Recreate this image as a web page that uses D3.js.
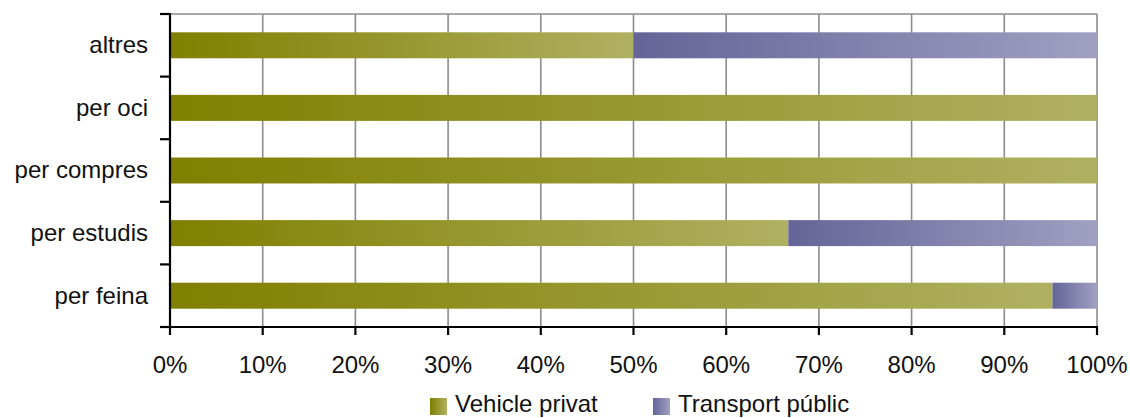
<!DOCTYPE html>
<html><head><meta charset="utf-8">
<script src="https://cdn.jsdelivr.net/npm/d3@7"></script>
<style>
body{margin:0;background:#fff;}
text{font-family:"Liberation Sans",Arial,sans-serif;fill:#111;}
</style></head>
<body>
<svg id="chart" width="1130" height="418"></svg>
<script>
const categories = ["altres","per oci","per compres","per estudis","per feina"];
const seriesNames = ["Vehicle privat","Transport públic"];
const vehiclePrivat = [50, 100, 100, 66.7, 95.2];
const transportPublic = [50, 0, 0, 33.3, 4.8];
const tickValues = [0,10,20,30,40,50,60,70,80,90,100];

(function(){
const svg = d3.select("#chart");
const mLeft = 170, mRight = 1097, mTop = 14, mBottom = 327;
const fontSize = 24;

const x = d3.scaleLinear().domain([0,100]).range([mLeft,mRight]);
const y = d3.scaleBand().domain(categories).range([mTop,mBottom]).paddingInner(0.585).paddingOuter(0.2925);

const defs = svg.append("defs");
const grads = [
  {id:"gOlive", c0:"#7f7f00", c1:"#b0b062"},
  {id:"gBlue", c0:"#646498", c1:"#a0a0c2"}
];
grads.forEach(g=>{
  const lg = defs.append("linearGradient").attr("id",g.id).attr("x1","0").attr("x2","1").attr("y1","0").attr("y2","0");
  lg.append("stop").attr("offset","0").attr("stop-color",g.c0);
  lg.append("stop").attr("offset","1").attr("stop-color",g.c1);
});

// gridlines
svg.append("g").selectAll("line").data(tickValues.filter(d=>d>0)).join("line")
  .attr("x1",d=>x(d)).attr("x2",d=>x(d)).attr("y1",mTop).attr("y2",mBottom)
  .attr("stroke","#8c8c8c").attr("stroke-width",1.6);
svg.append("line").attr("x1",mLeft).attr("x2",mRight).attr("y1",mTop).attr("y2",mTop)
  .attr("stroke","#8c8c8c").attr("stroke-width",1.6);

// bars
const rows = categories.map((c,i)=>({cat:c, v:[vehiclePrivat[i], transportPublic[i]]}));
const segs = [];
rows.forEach(r=>{
  let acc=0;
  r.v.forEach((v,k)=>{ if(v>0) segs.push({cat:r.cat, x0:acc, x1:acc+v, k}); acc+=v; });
});
svg.append("g").selectAll("rect").data(segs).join("rect")
  .attr("x",d=>x(d.x0)).attr("width",d=>x(d.x1)-x(d.x0))
  .attr("y",d=>y(d.cat)).attr("height",y.bandwidth())
  .attr("fill",d=>`url(#${grads[d.k].id})`);

// y axis
const yAxis = svg.append("g");
yAxis.append("line").attr("x1",mLeft).attr("x2",mLeft).attr("y1",mTop-1).attr("y2",mBottom+1)
  .attr("stroke","#000").attr("stroke-width",2.2);
const bounds = d3.range(categories.length+1).map(i=>mTop + i*y.step());
yAxis.selectAll(".yt").data(bounds).join("line").attr("class","yt")
  .attr("x1",mLeft-10).attr("x2",mLeft).attr("y1",d=>d).attr("y2",d=>d)
  .attr("stroke","#000").attr("stroke-width",2.2);
yAxis.selectAll("text").data(categories).join("text")
  .attr("x",148).attr("y",d=>y(d)+y.bandwidth()/2).attr("dy","0.33em")
  .attr("text-anchor","end").attr("font-size",fontSize).text(d=>d);

// x axis
const xAxis = svg.append("g");
xAxis.append("line").attr("x1",mLeft-10).attr("x2",mRight+1).attr("y1",mBottom).attr("y2",mBottom)
  .attr("stroke","#000").attr("stroke-width",2.2);
xAxis.selectAll(".xt").data(tickValues).join("line").attr("class","xt")
  .attr("x1",d=>x(d)).attr("x2",d=>x(d)).attr("y1",mBottom).attr("y2",mBottom+8)
  .attr("stroke","#000").attr("stroke-width",2.2);
xAxis.selectAll("text").data(tickValues).join("text")
  .attr("x",d=>x(d)).attr("y",373).attr("text-anchor","middle")
  .attr("font-size",fontSize).text(d=>d+"%");

// legend
const legendX = [430, 653];
const lgG = svg.append("g");
seriesNames.forEach((n,i)=>{
  lgG.append("rect").attr("x",legendX[i]).attr("y",398).attr("width",17).attr("height",17)
    .attr("fill",`url(#${grads[i].id})`);
  lgG.append("text").attr("x",legendX[i]+25).attr("y",412).attr("font-size",fontSize).text(n);
});
})();
</script>
</body></html>
